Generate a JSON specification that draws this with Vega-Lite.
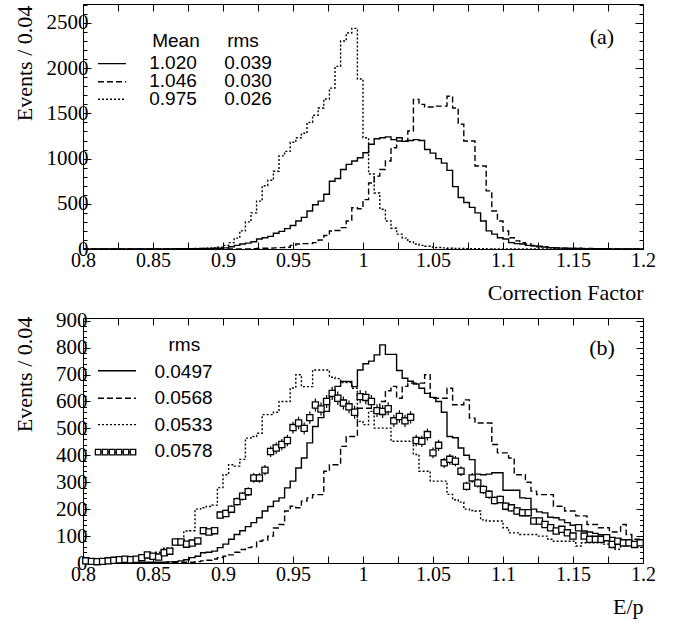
{
  "$schema": "https://vega.github.io/schema/vega-lite/v6.json",
  "padding": {"left": 12, "top": 3, "right": 5, "bottom": 5},
  "background": "white",
  "bounds": "flush",
  "spacing": 69,
  "config": {
    "view": {"stroke": "black", "strokeWidth": 1},
    "font": "Liberation Serif",
    "axis": {"domain": false, "grid": false, "tickColor": "black", "tickWidth": 1, "labelColor": "black", "labelFont": "Liberation Serif", "labelFontSize": 20, "titleFont": "Liberation Serif", "titleFontSize": 22, "titleFontWeight": "normal", "titleColor": "black", "labelOverlap": false, "labelFlush": false}
  },
  "datasets": {
    "ha": [
      {"x":0.8,"sol":0,"das":0,"dot":0},{"x":0.804,"sol":0,"das":0,"dot":0},{"x":0.808,"sol":0,"das":0,"dot":0},{"x":0.812,"sol":0,"das":0,"dot":0},
      {"x":0.816,"sol":0,"das":0,"dot":0},{"x":0.82,"sol":0,"das":0,"dot":0},{"x":0.824,"sol":0,"das":0,"dot":0},{"x":0.828,"sol":0,"das":0,"dot":0},
      {"x":0.832,"sol":0,"das":0,"dot":0},{"x":0.836,"sol":0,"das":0,"dot":0},{"x":0.84,"sol":0,"das":0,"dot":0},{"x":0.844,"sol":0,"das":0,"dot":0},
      {"x":0.848,"sol":0,"das":0,"dot":0},{"x":0.852,"sol":0,"das":0,"dot":0},{"x":0.856,"sol":0,"das":0,"dot":0},{"x":0.86,"sol":0,"das":0,"dot":0},
      {"x":0.864,"sol":1,"das":0,"dot":0},{"x":0.868,"sol":2,"das":0,"dot":2},{"x":0.872,"sol":2,"das":0,"dot":3},{"x":0.876,"sol":3,"das":0,"dot":4},
      {"x":0.88,"sol":4,"das":0,"dot":5},{"x":0.884,"sol":5,"das":0,"dot":6},{"x":0.888,"sol":6,"das":0,"dot":8},{"x":0.892,"sol":8,"das":0,"dot":12},
      {"x":0.896,"sol":8,"das":0,"dot":20},{"x":0.9,"sol":12,"das":0,"dot":40},{"x":0.904,"sol":25,"das":0,"dot":70},{"x":0.908,"sol":40,"das":0,"dot":120},
      {"x":0.912,"sol":55,"das":0,"dot":200},{"x":0.916,"sol":65,"das":0,"dot":300},{"x":0.92,"sol":80,"das":3,"dot":400},{"x":0.924,"sol":110,"das":5,"dot":530},
      {"x":0.928,"sol":125,"das":8,"dot":700},{"x":0.932,"sol":140,"das":10,"dot":760},{"x":0.936,"sol":175,"das":12,"dot":860},{"x":0.94,"sol":195,"das":15,"dot":1030},
      {"x":0.944,"sol":225,"das":20,"dot":1080},{"x":0.948,"sol":260,"das":40,"dot":1180},{"x":0.952,"sol":310,"das":55,"dot":1230},{"x":0.956,"sol":350,"das":60,"dot":1280},
      {"x":0.96,"sol":420,"das":60,"dot":1400},{"x":0.964,"sol":490,"das":70,"dot":1480},{"x":0.968,"sol":530,"das":100,"dot":1560},{"x":0.972,"sol":605,"das":150,"dot":1660},
      {"x":0.976,"sol":750,"das":199,"dot":1780},{"x":0.98,"sol":780,"das":205,"dot":2020},{"x":0.984,"sol":880,"das":236,"dot":2300},{"x":0.988,"sol":936,"das":310,"dot":2390},
      {"x":0.992,"sol":973,"das":457,"dot":2440},{"x":0.996,"sol":1010,"das":446,"dot":1880},{"x":1.0,"sol":1065,"das":546,"dot":1230},{"x":1.004,"sol":1158,"das":730,"dot":830},
      {"x":1.008,"sol":1220,"das":806,"dot":620},{"x":1.012,"sol":1230,"das":880,"dot":440},{"x":1.016,"sol":1240,"das":973,"dot":310},{"x":1.02,"sol":1210,"das":1120,"dot":230},
      {"x":1.024,"sol":1230,"das":1194,"dot":165},{"x":1.028,"sol":1190,"das":1194,"dot":120},{"x":1.032,"sol":1200,"das":1305,"dot":80},{"x":1.036,"sol":1210,"das":1655,"dot":55},
      {"x":1.04,"sol":1200,"das":1600,"dot":40},{"x":1.044,"sol":1100,"das":1570,"dot":30},{"x":1.048,"sol":1060,"das":1570,"dot":22},{"x":1.052,"sol":1000,"das":1580,"dot":16},
      {"x":1.056,"sol":950,"das":1580,"dot":12},{"x":1.06,"sol":870,"das":1690,"dot":9},{"x":1.064,"sol":690,"das":1560,"dot":7},{"x":1.068,"sol":570,"das":1380,"dot":5},
      {"x":1.072,"sol":515,"das":1194,"dot":4},{"x":1.076,"sol":460,"das":1194,"dot":3},{"x":1.08,"sol":400,"das":918,"dot":2},{"x":1.084,"sol":310,"das":918,"dot":2},
      {"x":1.088,"sol":200,"das":643,"dot":1},{"x":1.092,"sol":165,"das":421,"dot":0},{"x":1.096,"sol":125,"das":310,"dot":0},{"x":1.1,"sol":110,"das":199,"dot":0},
      {"x":1.104,"sol":70,"das":125,"dot":0},{"x":1.108,"sol":60,"das":90,"dot":0},{"x":1.112,"sol":55,"das":70,"dot":0},{"x":1.116,"sol":40,"das":55,"dot":0},
      {"x":1.12,"sol":33,"das":40,"dot":0},{"x":1.124,"sol":25,"das":30,"dot":0},{"x":1.128,"sol":22,"das":25,"dot":0},{"x":1.132,"sol":15,"das":15,"dot":0},
      {"x":1.136,"sol":12,"das":12,"dot":0},{"x":1.14,"sol":10,"das":10,"dot":0},{"x":1.144,"sol":8,"das":8,"dot":0},{"x":1.148,"sol":6,"das":6,"dot":0},
      {"x":1.152,"sol":5,"das":8,"dot":0},{"x":1.156,"sol":4,"das":5,"dot":0},{"x":1.16,"sol":3,"das":5,"dot":0},{"x":1.164,"sol":3,"das":4,"dot":0},
      {"x":1.168,"sol":2,"das":3,"dot":0},{"x":1.172,"sol":2,"das":2,"dot":0},{"x":1.176,"sol":1,"das":0,"dot":0},{"x":1.18,"sol":0,"das":0,"dot":0},
      {"x":1.184,"sol":0,"das":0,"dot":0},{"x":1.188,"sol":0,"das":0,"dot":0},{"x":1.192,"sol":0,"das":0,"dot":0},{"x":1.196,"sol":0,"das":0,"dot":0},
      {"x":1.2,"sol":0,"das":0,"dot":0}
    ],
    "hb": [
      {"x":0.8,"sol":2,"das":0,"dot":7},{"x":0.804,"sol":2,"das":0,"dot":6},{"x":0.808,"sol":2,"das":0,"dot":7},{"x":0.812,"sol":2,"das":0,"dot":5},
      {"x":0.816,"sol":2,"das":0,"dot":8},{"x":0.82,"sol":2,"das":0,"dot":7},{"x":0.824,"sol":2,"das":0,"dot":6},{"x":0.828,"sol":2,"das":0,"dot":8},
      {"x":0.832,"sol":2,"das":0,"dot":7},{"x":0.836,"sol":2,"das":0,"dot":10},{"x":0.84,"sol":3,"das":0,"dot":15},{"x":0.844,"sol":3,"das":0,"dot":20},
      {"x":0.848,"sol":3,"das":0,"dot":35},{"x":0.852,"sol":3,"das":0,"dot":40},{"x":0.856,"sol":3,"das":0,"dot":55},{"x":0.86,"sol":4,"das":3,"dot":55},
      {"x":0.864,"sol":5,"das":3,"dot":80},{"x":0.868,"sol":8,"das":3,"dot":85},{"x":0.872,"sol":12,"das":3,"dot":119},{"x":0.876,"sol":20,"das":3,"dot":120},
      {"x":0.88,"sol":25,"das":5,"dot":200},{"x":0.884,"sol":38,"das":8,"dot":205},{"x":0.888,"sol":40,"das":10,"dot":210},{"x":0.892,"sol":44,"das":15,"dot":215},
      {"x":0.896,"sol":57,"das":20,"dot":280},{"x":0.9,"sol":70,"das":25,"dot":328},{"x":0.904,"sol":88,"das":30,"dot":365},{"x":0.908,"sol":106,"das":40,"dot":360},
      {"x":0.912,"sol":120,"das":50,"dot":385},{"x":0.916,"sol":135,"das":57,"dot":464},{"x":0.92,"sol":150,"das":60,"dot":470},{"x":0.924,"sol":168,"das":81,"dot":482},
      {"x":0.928,"sol":193,"das":85,"dot":551},{"x":0.932,"sol":210,"das":100,"dot":551},{"x":0.936,"sol":230,"das":130,"dot":560},{"x":0.94,"sol":242,"das":143,"dot":600},
      {"x":0.944,"sol":279,"das":193,"dot":600},{"x":0.948,"sol":304,"das":211,"dot":650},{"x":0.952,"sol":353,"das":205,"dot":699},{"x":0.956,"sol":390,"das":230,"dot":655},
      {"x":0.96,"sol":446,"das":242,"dot":655},{"x":0.964,"sol":507,"das":254,"dot":717},{"x":0.968,"sol":540,"das":254,"dot":717},{"x":0.972,"sol":563,"das":341,"dot":717},
      {"x":0.976,"sol":618,"das":365,"dot":690},{"x":0.98,"sol":656,"das":365,"dot":685},{"x":0.984,"sol":674,"das":433,"dot":670},{"x":0.988,"sol":674,"das":470,"dot":670},
      {"x":0.992,"sol":655,"das":470,"dot":649},{"x":0.996,"sol":717,"das":575,"dot":526},{"x":1.0,"sol":740,"das":575,"dot":514},{"x":1.004,"sol":750,"das":575,"dot":563},
      {"x":1.008,"sol":773,"das":565,"dot":501},{"x":1.012,"sol":810,"das":600,"dot":501},{"x":1.016,"sol":775,"das":640,"dot":501},{"x":1.02,"sol":775,"das":656,"dot":452},
      {"x":1.024,"sol":715,"das":612,"dot":452},{"x":1.028,"sol":686,"das":656,"dot":452},{"x":1.032,"sol":675,"das":668,"dot":452},{"x":1.036,"sol":665,"das":668,"dot":403},
      {"x":1.04,"sol":649,"das":668,"dot":341},{"x":1.044,"sol":630,"das":699,"dot":341},{"x":1.048,"sol":615,"das":612,"dot":304},{"x":1.052,"sol":600,"das":612,"dot":304},
      {"x":1.056,"sol":560,"das":612,"dot":304},{"x":1.06,"sol":470,"das":649,"dot":255},{"x":1.064,"sol":465,"das":588,"dot":235},{"x":1.068,"sol":427,"das":588,"dot":226},
      {"x":1.072,"sol":400,"das":606,"dot":200},{"x":1.076,"sol":384,"das":538,"dot":195},{"x":1.08,"sol":330,"das":520,"dot":193},{"x":1.084,"sol":328,"das":520,"dot":160},
      {"x":1.088,"sol":330,"das":520,"dot":156},{"x":1.092,"sol":335,"das":440,"dot":156},{"x":1.096,"sol":335,"das":409,"dot":156},{"x":1.1,"sol":270,"das":409,"dot":131},
      {"x":1.104,"sol":270,"das":390,"dot":112},{"x":1.108,"sol":270,"das":328,"dot":112},{"x":1.112,"sol":242,"das":328,"dot":106},{"x":1.116,"sol":240,"das":300,"dot":106},
      {"x":1.12,"sol":200,"das":267,"dot":106},{"x":1.124,"sol":190,"das":254,"dot":100},{"x":1.128,"sol":186,"das":254,"dot":100},{"x":1.132,"sol":170,"das":254,"dot":88},
      {"x":1.136,"sol":168,"das":211,"dot":81},{"x":1.14,"sol":160,"das":211,"dot":81},{"x":1.144,"sol":150,"das":193,"dot":81},{"x":1.148,"sol":140,"das":193,"dot":81},
      {"x":1.152,"sol":130,"das":175,"dot":63},{"x":1.156,"sol":119,"das":175,"dot":75},{"x":1.16,"sol":115,"das":143,"dot":75},{"x":1.164,"sol":110,"das":143,"dot":75},
      {"x":1.168,"sol":105,"das":131,"dot":75},{"x":1.172,"sol":100,"das":131,"dot":70},{"x":1.176,"sol":95,"das":115,"dot":70},{"x":1.18,"sol":90,"das":115,"dot":51},
      {"x":1.184,"sol":85,"das":143,"dot":63},{"x":1.188,"sol":80,"das":106,"dot":63},{"x":1.192,"sol":78,"das":88,"dot":75},{"x":1.196,"sol":75,"das":88,"dot":75},
      {"x":1.2,"sol":75,"das":88,"dot":75}
    ],
    "pb": [
      {"x":0.802,"y":8,"lo":5,"hi":11},{"x":0.806,"y":6,"lo":4,"hi":8},{"x":0.81,"y":5,"lo":3,"hi":7},{"x":0.814,"y":6,"lo":4,"hi":8},
      {"x":0.818,"y":8,"lo":5,"hi":11},{"x":0.822,"y":10,"lo":7,"hi":13},{"x":0.826,"y":12,"lo":9,"hi":15},{"x":0.83,"y":14,"lo":10,"hi":18},
      {"x":0.834,"y":12,"lo":9,"hi":15},{"x":0.838,"y":14,"lo":10,"hi":18},{"x":0.842,"y":20,"lo":16,"hi":24},{"x":0.846,"y":30,"lo":25,"hi":35},
      {"x":0.85,"y":25,"lo":20,"hi":30},{"x":0.854,"y":22,"lo":17,"hi":27},{"x":0.858,"y":38,"lo":32,"hi":44},{"x":0.862,"y":44,"lo":37,"hi":51},
      {"x":0.866,"y":78,"lo":69,"hi":87},{"x":0.87,"y":78,"lo":69,"hi":87},{"x":0.874,"y":70,"lo":62,"hi":78},{"x":0.878,"y":74,"lo":65,"hi":83},
      {"x":0.882,"y":82,"lo":73,"hi":91},{"x":0.886,"y":120,"lo":109,"hi":131},{"x":0.89,"y":115,"lo":104,"hi":126},{"x":0.894,"y":120,"lo":109,"hi":131},
      {"x":0.898,"y":178,"lo":165,"hi":191},{"x":0.902,"y":184,"lo":170,"hi":198},{"x":0.906,"y":200,"lo":186,"hi":214},{"x":0.91,"y":228,"lo":213,"hi":243},
      {"x":0.914,"y":248,"lo":232,"hi":264},{"x":0.918,"y":265,"lo":249,"hi":281},{"x":0.922,"y":316,"lo":298,"hi":334},{"x":0.926,"y":316,"lo":298,"hi":334},
      {"x":0.93,"y":345,"lo":326,"hi":364},{"x":0.934,"y":414,"lo":394,"hi":434},{"x":0.938,"y":427,"lo":406,"hi":448},{"x":0.942,"y":440,"lo":419,"hi":461},
      {"x":0.946,"y":455,"lo":434,"hi":476},{"x":0.95,"y":503,"lo":481,"hi":525},{"x":0.954,"y":520,"lo":497,"hi":543},{"x":0.958,"y":500,"lo":478,"hi":522},
      {"x":0.962,"y":540,"lo":517,"hi":563},{"x":0.966,"y":587,"lo":563,"hi":611},{"x":0.97,"y":572,"lo":548,"hi":596},{"x":0.974,"y":600,"lo":576,"hi":624},
      {"x":0.978,"y":630,"lo":605,"hi":655},{"x":0.982,"y":612,"lo":587,"hi":637},{"x":0.986,"y":594,"lo":570,"hi":618},{"x":0.99,"y":580,"lo":556,"hi":604},
      {"x":0.994,"y":560,"lo":536,"hi":584},{"x":0.998,"y":618,"lo":593,"hi":643},{"x":1.002,"y":615,"lo":590,"hi":640},{"x":1.006,"y":600,"lo":576,"hi":624},
      {"x":1.01,"y":566,"lo":542,"hi":590},{"x":1.014,"y":563,"lo":539,"hi":587},{"x":1.018,"y":573,"lo":549,"hi":597},{"x":1.022,"y":528,"lo":505,"hi":551},
      {"x":1.026,"y":544,"lo":521,"hi":567},{"x":1.03,"y":528,"lo":505,"hi":551},{"x":1.034,"y":541,"lo":518,"hi":564},{"x":1.038,"y":455,"lo":434,"hi":476},
      {"x":1.042,"y":452,"lo":431,"hi":473},{"x":1.046,"y":477,"lo":455,"hi":499},{"x":1.05,"y":409,"lo":389,"hi":429},{"x":1.054,"y":437,"lo":416,"hi":458},
      {"x":1.058,"y":372,"lo":353,"hi":391},{"x":1.062,"y":385,"lo":365,"hi":405},{"x":1.066,"y":378,"lo":359,"hi":397},{"x":1.07,"y":341,"lo":323,"hi":359},
      {"x":1.074,"y":285,"lo":268,"hi":302},{"x":1.078,"y":316,"lo":298,"hi":334},{"x":1.082,"y":297,"lo":280,"hi":314},{"x":1.086,"y":273,"lo":256,"hi":290},
      {"x":1.09,"y":255,"lo":239,"hi":271},{"x":1.094,"y":232,"lo":217,"hi":247},{"x":1.098,"y":236,"lo":221,"hi":251},{"x":1.102,"y":211,"lo":196,"hi":226},
      {"x":1.106,"y":205,"lo":191,"hi":219},{"x":1.11,"y":193,"lo":179,"hi":207},{"x":1.114,"y":187,"lo":173,"hi":201},{"x":1.118,"y":187,"lo":173,"hi":201},
      {"x":1.122,"y":156,"lo":144,"hi":168},{"x":1.126,"y":156,"lo":144,"hi":168},{"x":1.13,"y":143,"lo":131,"hi":155},{"x":1.134,"y":131,"lo":120,"hi":142},
      {"x":1.138,"y":119,"lo":108,"hi":130},{"x":1.142,"y":125,"lo":114,"hi":136},{"x":1.146,"y":112,"lo":101,"hi":123},{"x":1.15,"y":100,"lo":90,"hi":110},
      {"x":1.154,"y":131,"lo":120,"hi":142},{"x":1.158,"y":100,"lo":90,"hi":110},{"x":1.162,"y":88,"lo":79,"hi":97},{"x":1.166,"y":88,"lo":79,"hi":97},
      {"x":1.17,"y":88,"lo":79,"hi":97},{"x":1.174,"y":94,"lo":84,"hi":104},{"x":1.178,"y":69,"lo":61,"hi":77},{"x":1.182,"y":81,"lo":72,"hi":90},
      {"x":1.186,"y":75,"lo":66,"hi":84},{"x":1.19,"y":75,"lo":66,"hi":84},{"x":1.194,"y":69,"lo":61,"hi":77},{"x":1.198,"y":75,"lo":66,"hi":84}
    ]
  },
  "vconcat": [
    {
      "width": 560, "height": 245,
      "layer": [
        {
          "data": {"name": "ha"},
          "transform": [{"fold": ["sol", "das", "dot"], "as": ["s", "v"]}],
          "mark": {"type": "line", "interpolate": "step-after", "strokeWidth": 1.4, "color": "black"},
          "encoding": {
            "x": {"field": "x", "type": "quantitative", "scale": {"domain": [0.8, 1.2], "nice": false, "zero": false},
              "axis": {"orient": "bottom", "values": [0.8,0.825,0.85,0.875,0.9,0.925,0.95,0.975,1,1.025,1.05,1.075,1.1,1.125,1.15,1.175,1.2], "tickSize": -7, "labelPadding": 8, "labelExpr": "round(datum.value*1000) % 50 == 0 ? format(datum.value, '~g') : ''", "title": "Correction Factor", "titleX": 560, "titleY": 50, "titleAlign": "right", "titleBaseline": "alphabetic"}},
            "y": {"field": "v", "type": "quantitative", "scale": {"domain": [0, 2710], "nice": false},
              "axis": {"orient": "left", "values": [0,500,1000,1500,2000,2500], "format": "d", "tickSize": -8, "labelPadding": 3, "labelFontSize": 21, "title": "Events / 0.04", "titleX": -59, "titleY": 59, "titleAngle": -90, "titleAlign": "center", "titleBaseline": "middle"}},
            "strokeDash": {"field": "s", "type": "nominal", "scale": {"domain": ["sol", "das", "dot"], "range": [[1, 0], [6, 3], [2, 2]]}, "legend": null}
          }
        },
        {
          "data": {"values": [
            {"x": 0.8664, "y": 2306, "t": "Mean"}, {"x": 0.9143, "y": 2306, "t": "rms"},
            {"x": 0.8643, "y": 2057, "t": "1.020"}, {"x": 0.9179, "y": 2057, "t": "0.039"},
            {"x": 0.8643, "y": 1858, "t": "1.046"}, {"x": 0.9179, "y": 1858, "t": "0.030"},
            {"x": 0.8643, "y": 1659, "t": "0.975"}, {"x": 0.9179, "y": 1659, "t": "0.026"}
          ]},
          "mark": {"type": "text", "font": "Liberation Sans", "fontSize": 19, "align": "center", "baseline": "middle", "color": "black"},
          "encoding": {
            "x": {"field": "x", "type": "quantitative", "axis": {"orient": "top", "values": [0.8,0.825,0.85,0.875,0.9,0.925,0.95,0.975,1,1.025,1.05,1.075,1.1,1.125,1.15,1.175,1.2], "tickSize": -7, "labels": false, "title": null}},
            "y": {"field": "y", "type": "quantitative", "axis": {"orient": "left", "values": [100,200,300,400,600,700,800,900,1100,1200,1300,1400,1600,1700,1800,1900,2100,2200,2300,2400,2600,2700], "tickSize": -4, "labels": false, "title": null}},
            "text": {"field": "t"}
          }
        },
        {
          "data": {"values": [
            {"x": 0.8107, "x2": 0.8307, "y": 2050, "s": "sol"},
            {"x": 0.8107, "x2": 0.8307, "y": 1850, "s": "das"},
            {"x": 0.8107, "x2": 0.8307, "y": 1656, "s": "dot"}
          ]},
          "mark": {"type": "rule", "strokeWidth": 1.4, "color": "black"},
          "encoding": {
            "x": {"field": "x", "type": "quantitative", "axis": null},
            "x2": {"field": "x2"},
            "y": {"field": "y", "type": "quantitative", "axis": {"orient": "right", "values": [0,500,1000,1500,2000,2500], "tickSize": -8, "labels": false, "title": null}},
            "strokeDash": {"field": "s", "type": "nominal", "legend": null}
          }
        },
        {
          "data": {"values": [{"x": 1.1707, "y": 2345, "t": "(a)"}]},
          "mark": {"type": "text", "font": "Liberation Serif", "fontSize": 22, "align": "center", "baseline": "middle", "color": "black"},
          "encoding": {
            "x": {"field": "x", "type": "quantitative", "axis": null},
            "y": {"field": "y", "type": "quantitative", "axis": {"orient": "right", "values": [100,200,300,400,600,700,800,900,1100,1200,1300,1400,1600,1700,1800,1900,2100,2200,2300,2400,2600,2700], "tickSize": -4, "labels": false, "title": null}},
            "text": {"field": "t"}
          }
        }
      ],
      "resolve": {"scale": {"x": "shared", "y": "shared"}, "axis": {"x": "independent", "y": "independent"}}
    },
    {
      "width": 560, "height": 245,
      "layer": [
        {
          "data": {"name": "hb"},
          "transform": [{"fold": ["sol", "das", "dot"], "as": ["s", "v"]}],
          "mark": {"type": "line", "interpolate": "step-after", "strokeWidth": 1.4, "color": "black"},
          "encoding": {
            "x": {"field": "x", "type": "quantitative", "scale": {"domain": [0.8, 1.2], "nice": false, "zero": false},
              "axis": {"orient": "bottom", "values": [0.8,0.825,0.85,0.875,0.9,0.925,0.95,0.975,1,1.025,1.05,1.075,1.1,1.125,1.15,1.175,1.2], "tickSize": -7, "labelPadding": 8, "labelExpr": "round(datum.value*1000) % 50 == 0 ? format(datum.value, '~g') : ''", "title": "E/p", "titleX": 560, "titleY": 50, "titleAlign": "right", "titleBaseline": "alphabetic"}},
            "y": {"field": "v", "type": "quantitative", "scale": {"domain": [0, 910], "nice": false},
              "axis": {"orient": "left", "values": [0,100,200,300,400,500,600,700,800,900], "format": "d", "tickSize": -7, "labelPadding": 3, "labelFontSize": 21, "title": "Events / 0.04", "titleX": -59, "titleY": 56, "titleAngle": -90, "titleAlign": "center", "titleBaseline": "middle"}},
            "strokeDash": {"field": "s", "type": "nominal", "scale": {"domain": ["sol", "das", "dot"], "range": [[1, 0], [6, 3], [2, 2]]}, "legend": null}
          }
        },
        {
          "data": {"values": [
            {"x": 0.8724, "y": 811, "t": "rms"},
            {"x": 0.8718, "y": 711, "t": "0.0497"},
            {"x": 0.8718, "y": 612, "t": "0.0568"},
            {"x": 0.8718, "y": 514, "t": "0.0533"},
            {"x": 0.8718, "y": 415, "t": "0.0578"}
          ]},
          "mark": {"type": "text", "font": "Liberation Sans", "fontSize": 19, "align": "center", "baseline": "middle", "color": "black"},
          "encoding": {
            "x": {"field": "x", "type": "quantitative", "axis": {"orient": "top", "values": [0.8,0.825,0.85,0.875,0.9,0.925,0.95,0.975,1,1.025,1.05,1.075,1.1,1.125,1.15,1.175,1.2], "tickSize": -7, "labels": false, "title": null}},
            "y": {"field": "y", "type": "quantitative", "axis": {"orient": "left", "values": [20,40,60,80,120,140,160,180,220,240,260,280,320,340,360,380,420,440,460,480,520,540,560,580,620,640,660,680,720,740,760,780,820,840,860,880], "tickSize": -3.5, "labels": false, "title": null}},
            "text": {"field": "t"}
          }
        },
        {
          "data": {"values": [
            {"x": 0.8107, "x2": 0.8379, "y": 714, "s": "sol"},
            {"x": 0.8107, "x2": 0.8379, "y": 612, "s": "das"},
            {"x": 0.8107, "x2": 0.8379, "y": 514, "s": "dot"},
            {"x": 0.8107, "x2": 0.8379, "y": 412, "s": "sol"}
          ]},
          "mark": {"type": "rule", "strokeWidth": 1.4, "color": "black"},
          "encoding": {
            "x": {"field": "x", "type": "quantitative", "axis": null},
            "x2": {"field": "x2"},
            "y": {"field": "y", "type": "quantitative", "axis": {"orient": "right", "values": [0,100,200,300,400,500,600,700,800,900], "tickSize": -7, "labels": false, "title": null}},
            "strokeDash": {"field": "s", "type": "nominal", "legend": null}
          }
        },
        {
          "data": {"values": [{"x": 1.1707, "y": 800, "t": "(b)"}]},
          "mark": {"type": "text", "font": "Liberation Serif", "fontSize": 22, "align": "center", "baseline": "middle", "color": "black"},
          "encoding": {
            "x": {"field": "x", "type": "quantitative", "axis": null},
            "y": {"field": "y", "type": "quantitative", "axis": {"orient": "right", "values": [20,40,60,80,120,140,160,180,220,240,260,280,320,340,360,380,420,440,460,480,520,540,560,580,620,640,660,680,720,740,760,780,820,840,860,880], "tickSize": -3.5, "labels": false, "title": null}},
            "text": {"field": "t"}
          }
        },
        {
          "data": {"name": "pb"},
          "mark": {"type": "rule", "color": "black", "strokeWidth": 1.2},
          "encoding": {
            "x": {"field": "x", "type": "quantitative", "axis": null},
            "y": {"field": "lo", "type": "quantitative", "axis": null},
            "y2": {"field": "hi"}
          }
        },
        {
          "data": {"name": "pb"},
          "mark": {"type": "point", "shape": "square", "filled": true, "fill": "white", "stroke": "black", "strokeWidth": 1.3, "size": 38, "opacity": 1},
          "encoding": {
            "x": {"field": "x", "type": "quantitative", "axis": null},
            "y": {"field": "y", "type": "quantitative", "axis": null}
          }
        },
        {
          "data": {"values": [
            {"x": 0.8108, "y": 412}, {"x": 0.8158, "y": 412}, {"x": 0.8208, "y": 412},
            {"x": 0.8257, "y": 412}, {"x": 0.8307, "y": 412}, {"x": 0.8357, "y": 412}
          ]},
          "mark": {"type": "point", "shape": "square", "filled": true, "fill": "white", "stroke": "black", "strokeWidth": 1.3, "size": 30, "opacity": 1},
          "encoding": {
            "x": {"field": "x", "type": "quantitative", "axis": null},
            "y": {"field": "y", "type": "quantitative", "axis": null}
          }
        }
      ],
      "resolve": {"scale": {"x": "shared", "y": "shared"}, "axis": {"x": "independent", "y": "independent"}}
    }
  ]
}
